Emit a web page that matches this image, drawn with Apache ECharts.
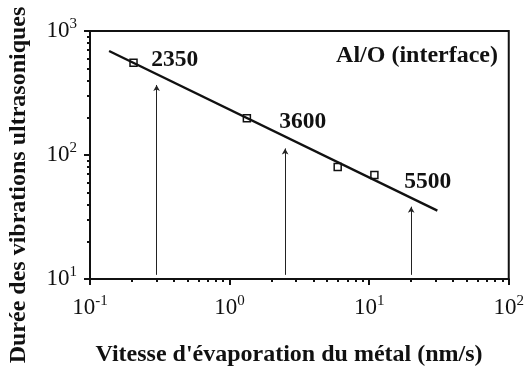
<!DOCTYPE html>
<html>
<head>
<meta charset="utf-8">
<script src="https://cdn.jsdelivr.net/npm/echarts@6/dist/echarts.min.js"></script>
<style>
  html, body { margin: 0; padding: 0; background: #fff; }
  #chart { width: 527px; height: 369px; }
</style>
</head>
<body>
<div id="chart"></div>
<script>
// Measured points (evaporation rate nm/s, ultrasonic vibration duration)
const measuredRate = [0.205, 1.33, 5.95, 10.9];
const measuredDuration = [555, 198, 80, 69];

// Fitted straight line in log-log space (end points)
const fitRate = [0.137, 30.8];
const fitDuration = [690, 35.6];

// Vertical arrows and their annotations
const arrowRate = [0.3, 2.5, 20];
const arrowBase = [10.8, 10.8, 10.8];
const arrowTop = [367, 113, 38.3];
const arrowLabels = ['2350', '3600', '5500'];
const labelRate = [0.404, 3.34, 26.3];
const labelDuration = [583, 185, 60.5];

// Axis decades and minor tick multipliers
const xDecades = [0.1, 1, 10, 100];
const yDecades = [10, 100, 1000];
const minorSteps = [2, 3, 4, 5, 6, 7, 8, 9];

const SERIF = '"Liberation Serif", "Times New Roman", serif';
const INK = '#111';

function minorValues(decades) {
  const out = [];
  for (let i = 0; i < decades.length - 1; i++) {
    minorSteps.forEach(m => out.push(+(decades[i] * m).toPrecision(6)));
  }
  return out;
}

function powLabel(v) {
  const e = Math.round(Math.log10(v));
  return '{b|10}{s|' + e + '}';
}

const richPow = {
  b: { fontFamily: SERIF, fontSize: 23, color: INK, lineHeight: 26 },
  s: { fontFamily: SERIF, fontSize: 15, color: INK, lineHeight: 26, padding: [0, 0, 13, 0] }
};

function majorAxis(min, max, isX) {
  return {
    type: 'log', logBase: 10, min: min, max: max,
    position: isX ? 'bottom' : 'left',
    axisLine: { show: true, lineStyle: { color: INK, width: 2 } },
    axisTick: { show: true, inside: false, length: 6, lineStyle: { color: INK, width: 2 } },
    splitLine: { show: false },
    axisLabel: {
      show: true, formatter: powLabel, rich: richPow,
      margin: isX ? 16 : 13
    }
  };
}

function minorAxis(min, max, isX, decades) {
  return {
    type: 'log', logBase: 10, min: min, max: max,
    position: isX ? 'bottom' : 'left',
    axisLine: { show: false },
    axisTick: { show: true, inside: false, length: 3, customValues: minorValues(decades),
                lineStyle: { color: INK, width: 2 } },
    axisLabel: { show: false },
    splitLine: { show: false }
  };
}

const chart = echarts.init(document.getElementById('chart'), null, { renderer: 'canvas' });

const fitData = fitRate.map((x, i) => [x, fitDuration[i]]);
const pointData = measuredRate.map((x, i) => [x, measuredDuration[i]]);
const arrowLines = arrowRate.map((x, i) => [
  { coord: [x, arrowBase[i]] },
  { coord: [x, arrowTop[i]] }
]);
const labelData = labelRate.map((x, i) => ({ name: arrowLabels[i], value: [x, labelDuration[i]] }));

chart.setOption({
  animation: false,
  backgroundColor: '#fff',
  grid: {
    left: 90, top: 31, right: 12, bottom: 90,
    show: true, borderColor: INK, borderWidth: 2, backgroundColor: 'transparent'
  },
  xAxis: [majorAxis(0.1, 100, true), minorAxis(0.1, 100, true, xDecades)],
  yAxis: [majorAxis(10, 1000, false), minorAxis(10, 1000, false, yDecades)],
  series: [
    {
      type: 'line', data: fitData, showSymbol: false, silent: true,
      lineStyle: { color: INK, width: 2.4 },
      markLine: {
        silent: true, symbol: ['none', 'arrow'], symbolSize: [5, 6],
        label: { show: false },
        lineStyle: { color: '#222', width: 1, type: 'solid', opacity: 1 },
        data: arrowLines
      }
    },
    {
      type: 'scatter', data: pointData, symbol: 'rect', symbolSize: 7,
      itemStyle: { color: '#fff', borderColor: INK, borderWidth: 1.5, opacity: 1 }
    },
    {
      type: 'scatter', data: labelData, symbolSize: 0, silent: true,
      itemStyle: { opacity: 1 },
      label: {
        show: true, position: 'inside', formatter: '{b}',
        fontFamily: SERIF, fontWeight: 'bold', fontSize: 23.5, color: INK, opacity: 1
      }
    }
  ],
  graphic: [
    {
      type: 'text', right: 29, top: 44,
      style: { text: 'Al/O (interface)', fontFamily: SERIF, fontWeight: 'bold', fontSize: 24, fill: INK }
    },
    {
      type: 'text', x: 289, y: 355,
      style: { text: "Vitesse d'évaporation du métal (nm/s)", fontFamily: SERIF, fontWeight: 'bold',
               fontSize: 24, fill: INK, align: 'center', verticalAlign: 'middle' }
    },
    {
      type: 'text', x: 19, y: 185, rotation: Math.PI / 2,
      style: { text: 'Durée des vibrations ultrasoniques', fontFamily: SERIF, fontWeight: 'bold',
               fontSize: 24, fill: INK, align: 'center', verticalAlign: 'middle' }
    }
  ]
});
</script>
</body>
</html>
